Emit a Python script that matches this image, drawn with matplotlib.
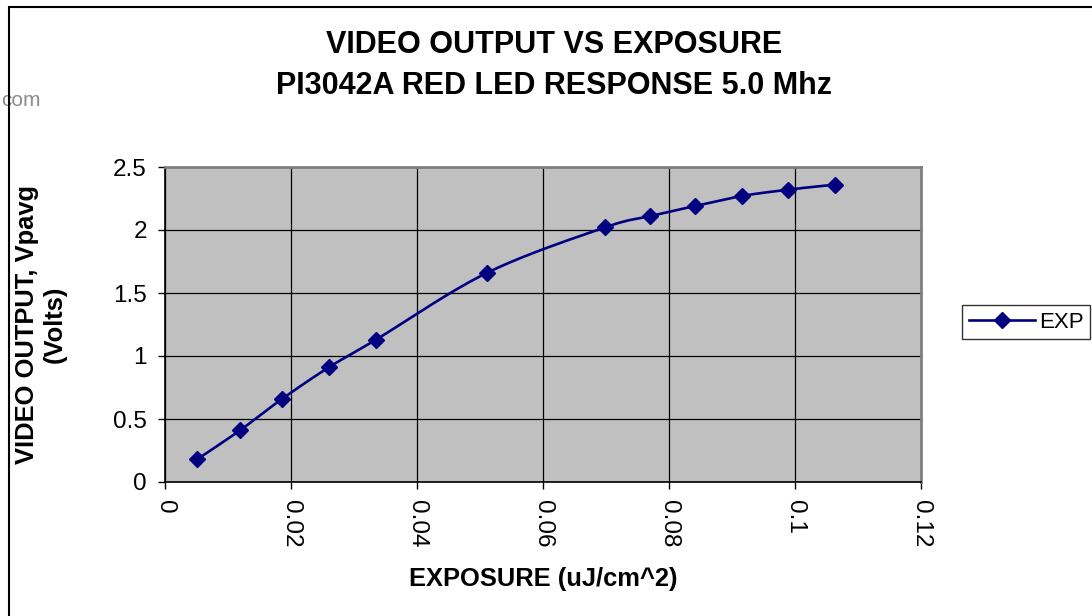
import matplotlib
matplotlib.use("Agg")
from matplotlib import pyplot as plt
from matplotlib.patches import Rectangle
import numpy as np

plt.rcParams['font.family'] = ['Liberation Sans', 'DejaVu Sans']

# data
exposure = [0.0051, 0.0119, 0.0186, 0.0260, 0.0335, 0.0511,
            0.0698, 0.0770, 0.0841, 0.0916, 0.0989, 0.1063]
video_out = [0.18, 0.41, 0.66, 0.91, 1.13, 1.66,
             2.02, 2.11, 2.19, 2.27, 2.32, 2.36]
series_name = "EXP"
title_lines = ["VIDEO OUTPUT VS EXPOSURE", "PI3042A RED LED RESPONSE 5.0 Mhz"]
x_ticks = [0, 0.02, 0.04, 0.06, 0.08, 0.1, 0.12]
x_tick_labels = ["0", "0.02", "0.04", "0.06", "0.08", "0.1", "0.12"]
y_ticks = [0, 0.5, 1, 1.5, 2, 2.5]
y_tick_labels = ["0", "0.5", "1", "1.5", "2", "2.5"]

W, H = 1092, 616


def smooth(xs, ys, n=20):
    # excel style smoothed line (catmull-rom through the points)
    x = np.asarray(xs, float)
    y = np.asarray(ys, float)
    px = np.concatenate([[x[0]], x, [x[-1]]])
    py = np.concatenate([[y[0]], y, [y[-1]]])
    t = np.linspace(0, 1, n, endpoint=False)
    ox, oy = [], []
    for i in range(1, len(px) - 2):
        for p, o in ((px, ox), (py, oy)):
            p0, p1, p2, p3 = p[i - 1], p[i], p[i + 1], p[i + 2]
            o.extend(0.5 * (2 * p1 + (-p0 + p2) * t
                            + (2 * p0 - 5 * p1 + 4 * p2 - p3) * t ** 2
                            + (-p0 + 3 * p1 - 3 * p2 + p3) * t ** 3))
    ox.append(x[-1])
    oy.append(y[-1])
    return ox, oy


fig = plt.figure(figsize=(W / 100, H / 100), dpi=100)
fig.patch.set_facecolor('white')

# plot area in pixels: left 165, right 921, top 167, bottom 482
ax = fig.add_axes([165 / W, 1 - 482 / H, (921 - 165) / W, (482 - 167) / H])
ax.set_facecolor('#C0C0C0')

sx, sy = smooth(exposure, video_out)
ax.plot(sx, sy, color='#000080', lw=1.9, zorder=3)
ax.plot(exposure, video_out, ls='none', marker='D', ms=8,
        color='#000080', zorder=4)

ax.set_xlim(0, 0.12)
ax.set_ylim(0, 2.5)
ax.set_xticks(x_ticks)
ax.set_xticklabels(x_tick_labels, rotation=270, fontsize=17.5)
ax.set_yticks(y_ticks)
ax.set_yticklabels(y_tick_labels, fontsize=17.5)
ax.tick_params(axis='x', direction='out', length=5, width=1, pad=8)
ax.tick_params(axis='y', direction='out', length=5, width=1, pad=8)
ax.grid(True, color='black', lw=0.9)
ax.set_axisbelow(True)

for s in ('top', 'right'):
    ax.spines[s].set_color('#808080')
    ax.spines[s].set_linewidth(2)
for s in ('left', 'bottom'):
    ax.spines[s].set_color('black')
    ax.spines[s].set_linewidth(1.2)

ax.set_xlabel("EXPOSURE (uJ/cm^2)", fontsize=18.4, fontweight='bold',
              labelpad=14)

fig.text(41 / W, 1 - 324 / H, "VIDEO OUTPUT, Vpavg\n(Volts)", rotation=90,
         ha='center', va='center', multialignment='center',
         fontsize=18.4, fontweight='bold', linespacing=1.2)

fig.text(554 / W, 1 - 45 / H, title_lines[0], ha='center', va='center',
         fontsize=22, fontweight='bold')
fig.text(554 / W, 1 - 86 / H, title_lines[1], ha='center', va='center',
         fontsize=22, fontweight='bold')

# leftover watermark fragment
fig.text(41 / W, 1 - 106 / H, "com", ha='right', va='baseline',
         fontsize=15, color='#8C8C8C')

# chart area border
fig.patches.append(Rectangle((9 / W, -0.1), 1.2, 1.1 - 7 / H,
                             transform=fig.transFigure, fill=False,
                             edgecolor='black', lw=1.5, zorder=5))

handle = ax.plot([], [], color='#000080', lw=1.9, marker='D', ms=8)[0]
leg = fig.legend([handle], [series_name], loc='center left',
                 bbox_to_anchor=(962 / W, 1 - 322 / H), fontsize=16,
                 frameon=True, fancybox=False, borderpad=0.3,
                 handlelength=3.0, handletextpad=0.15, borderaxespad=0)
leg.get_frame().set_edgecolor('black')
leg.get_frame().set_linewidth(1)

fig.savefig("out.png", dpi=100)
